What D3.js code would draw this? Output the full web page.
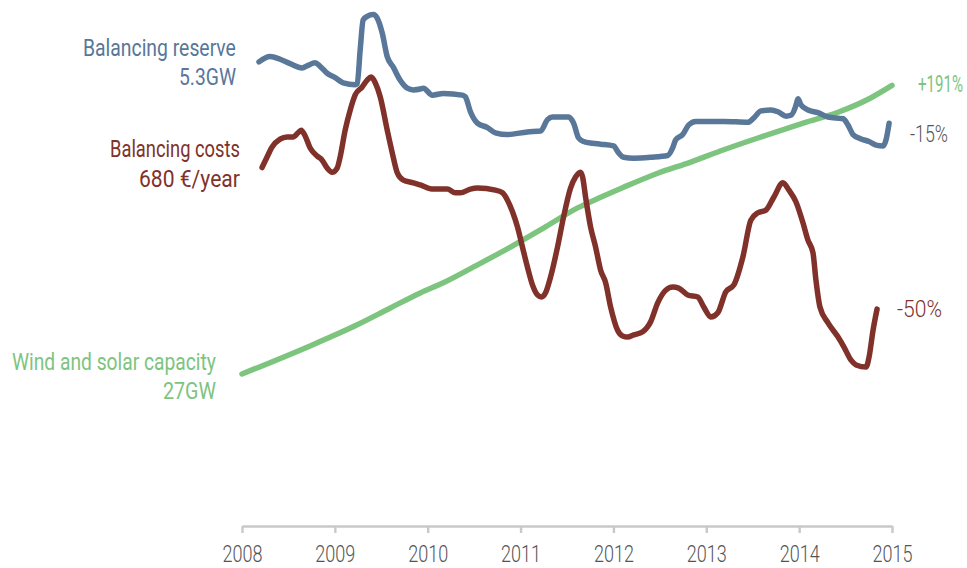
<!DOCTYPE html>
<html>
<head>
<meta charset="utf-8">
<script src="https://cdn.jsdelivr.net/npm/d3@7"></script>
<style>
  html, body { margin: 0; padding: 0; background: #ffffff; }
  svg { display: block; }
  text { font-family: Roboto, 'DejaVu Sans Condensed', sans-serif; }
</style>
</head>
<body>
<svg id="chart" width="967" height="568"></svg>
<script>
// ---------- DATA ----------
const yearTicks = [2008, 2009, 2010, 2011, 2012, 2013, 2014, 2015];

// Balancing reserve (GW)
const reserveYears = [2008.183, 2008.302, 2008.410, 2008.518, 2008.647, 2008.712, 2008.787, 2008.841, 2008.917, 2009.003,
  2009.090, 2009.219, 2009.241, 2009.273, 2009.305, 2009.348, 2009.413, 2009.456, 2009.510, 2009.564,
  2009.629, 2009.704, 2009.780, 2009.845, 2009.920, 2009.953, 2010.050, 2010.168, 2010.373, 2010.406,
  2010.460, 2010.535, 2010.643, 2010.729, 2010.859, 2011.074, 2011.215, 2011.290, 2011.344, 2011.517,
  2011.571, 2011.625, 2011.678, 2011.776, 2011.862, 2012.002, 2012.056, 2012.110, 2012.218, 2012.401,
  2012.585, 2012.639, 2012.671, 2012.746, 2012.811, 2012.887, 2013.189, 2013.448, 2013.512, 2013.588,
  2013.696, 2013.771, 2013.858, 2013.911, 2013.965, 2013.987, 2014.019, 2014.095, 2014.203, 2014.311,
  2014.473, 2014.526, 2014.580, 2014.667, 2014.753, 2014.828, 2014.904, 2014.936, 2014.969];
const reserveValues = [5.29, 5.35, 5.32, 5.27, 5.22, 5.25, 5.28, 5.24, 5.16, 5.11,
  5.05, 5.03, 5.04, 5.43, 5.77, 5.81, 5.83, 5.79, 5.62, 5.35,
  5.23, 5.08, 4.99, 4.97, 4.98, 4.99, 4.91, 4.93, 4.91, 4.89,
  4.72, 4.59, 4.54, 4.48, 4.46, 4.49, 4.50, 4.63, 4.66, 4.66,
  4.59, 4.42, 4.38, 4.36, 4.35, 4.33, 4.25, 4.20, 4.19, 4.20,
  4.22, 4.31, 4.40, 4.46, 4.57, 4.61, 4.61, 4.60, 4.65, 4.73,
  4.74, 4.72, 4.67, 4.68, 4.79, 4.87, 4.80, 4.74, 4.71, 4.66,
  4.64, 4.57, 4.46, 4.41, 4.38, 4.34, 4.33, 4.40, 4.59];

// Balancing costs (EUR/year)
const costYears = [2008.216, 2008.270, 2008.324, 2008.410, 2008.485, 2008.550, 2008.604, 2008.636, 2008.680, 2008.734,
  2008.809, 2008.863, 2008.917, 2008.971, 2009.025, 2009.057, 2009.111, 2009.165, 2009.219, 2009.294,
  2009.348, 2009.392, 2009.435, 2009.489, 2009.564, 2009.618, 2009.672, 2009.737, 2009.845, 2009.920,
  2010.060, 2010.211, 2010.298, 2010.352, 2010.460, 2010.535, 2010.729, 2010.805, 2010.859, 2010.913,
  2010.967, 2011.020, 2011.074, 2011.128, 2011.182, 2011.226, 2011.269, 2011.323, 2011.398, 2011.463,
  2011.538, 2011.592, 2011.646, 2011.668, 2011.700, 2011.754, 2011.808, 2011.862, 2011.916, 2011.970,
  2012.045, 2012.099, 2012.153, 2012.218, 2012.315, 2012.401, 2012.477, 2012.563, 2012.639, 2012.703,
  2012.800, 2012.908, 2012.973, 2013.049, 2013.124, 2013.210, 2013.297, 2013.394, 2013.480, 2013.556,
  2013.642, 2013.728, 2013.825, 2013.890, 2013.965, 2014.041, 2014.095, 2014.149, 2014.181, 2014.224,
  2014.311, 2014.419, 2014.483, 2014.559, 2014.613, 2014.721, 2014.753, 2014.796, 2014.839];
const costValues = [679, 699, 718, 733, 737, 737, 745, 750, 739, 716,
  701, 693, 678, 670, 678, 699, 750, 788, 817, 832,
  845, 851, 840, 813, 750, 707, 669, 655, 650, 646,
  638, 638, 631, 631, 638, 640, 636, 631, 617, 595,
  566, 528, 490, 456, 437, 433, 441, 471, 528, 585,
  640, 661, 670, 661, 623, 566, 528, 484, 460, 414,
  370, 359, 357, 361, 367, 386, 422, 446, 452, 450,
  437, 433, 414, 395, 403, 443, 456, 509, 579, 593,
  598, 623, 650, 636, 614, 574, 541, 517, 465, 414,
  384, 357, 338, 313, 304, 300, 319, 370, 410];

// Wind and solar capacity (GW)
const capacityYears = [2008.000, 2008.701, 2009.241, 2009.597, 2009.920, 2010.168, 2010.535, 2010.891, 2011.247, 2011.614,
  2011.862, 2012.110, 2012.477, 2012.833, 2013.189, 2013.556, 2014.052, 2014.419, 2014.775, 2015.000];
const capacityValues = [27.0, 31.8, 35.8, 38.8, 41.5, 43.3, 46.5, 49.7, 53.1, 56.7,
  58.6, 60.4, 62.9, 64.9, 67.1, 69.2, 71.9, 73.8, 76.4, 78.6];

// Labels
const seriesNames = ["Balancing reserve", "Balancing costs", "Wind and solar capacity"];
const seriesStarts = ["5.3GW", "680 €/year", "27GW"];
const seriesChanges = ["-15%", "-50%", "+191%"];

// ---------- STYLE ----------
const BLUE = "#587799";
const RED = "#80322a";
const GREEN = "#7dc47f";
const GREYTEXT = "#555555";
const FS = 23;

const svg = d3.select("#chart");

const x = d3.scaleLinear().domain([2008, 2015]).range([242, 892]);
const yReserve = d3.scaleLinear().domain([0, 5.3]).range([525, 61]);
const yCost = d3.scaleLinear().domain([0, 680]).range([525, 167]);
const yCap = d3.scaleLinear().domain([0, 27]).range([525, 374]);

// Axis
const axis = d3.axisBottom(x)
  .tickValues(yearTicks)
  .tickFormat(d3.format("d"))
  .tickSize(7)
  .tickSizeOuter(0)
  .tickPadding(13);

const gAxis = svg.append("g").attr("transform", "translate(0,526)").call(axis);
gAxis.select(".domain").attr("stroke", "#c9c9c9").attr("stroke-width", 2.4);
gAxis.selectAll(".tick line").attr("stroke", "#c9c9c9").attr("stroke-width", 2.4);
gAxis.selectAll(".tick text")
  .attr("fill", GREYTEXT)
  .attr("textLength", 40)
  .attr("lengthAdjust", "spacingAndGlyphs")
  .style("font-size", FS + "px")
  .style("font-weight", 300)
  .style("font-family", "Roboto, sans-serif");

function drawSeries(years, values, yScale, color, width) {
  const data = years.map((t, i) => [t, values[i]]);
  const line = d3.line()
    .x(d => x(d[0]))
    .y(d => yScale(d[1]))
    .curve(d3.curveMonotoneX);
  svg.append("path")
    .datum(data)
    .attr("d", line)
    .attr("fill", "none")
    .attr("stroke", color)
    .attr("stroke-width", width)
    .attr("stroke-linejoin", "round")
    .attr("stroke-linecap", "round");
}

drawSeries(capacityYears, capacityValues, yCap, GREEN, 5.5);
drawSeries(costYears, costValues, yCost, RED, 5.5);
drawSeries(reserveYears, reserveValues, yReserve, BLUE, 5.5);

// Labels: Roboto squeezed horizontally to match the condensed face
function label(txt, xPos, yPos, color, anchor, width, weight) {
  const t = svg.append("text")
    .attr("x", 0)
    .attr("y", 0)
    .attr("fill", color)
    .style("font-size", FS + "px")
    .style("font-weight", weight || 400)
    .text(txt);
  const natural = t.node().getComputedTextLength() || width;
  const sx = width / natural;
  const left = anchor === "end" ? xPos - width : xPos;
  t.attr("transform", `translate(${left},${yPos}) scale(${sx},1)`);
}

label(seriesNames[0], 236, 56, BLUE, "end", 153);
label(seriesStarts[0], 236, 85, BLUE, "end", 57);
label(seriesNames[1], 240, 157, RED, "end", 130);
label(seriesStarts[1], 240, 187, RED, "end", 101);
label(seriesNames[2], 216, 370, GREEN, "end", 204);
label(seriesStarts[2], 216, 399, GREEN, "end", 53);

// Right change labels
label(seriesChanges[2], 918, 92, GREEN, "start", 45);
label(seriesChanges[0], 910, 142, GREYTEXT, "start", 38, 300);
label(seriesChanges[1], 897, 317, RED, "start", 45, 300);
</script>
</body>
</html>
